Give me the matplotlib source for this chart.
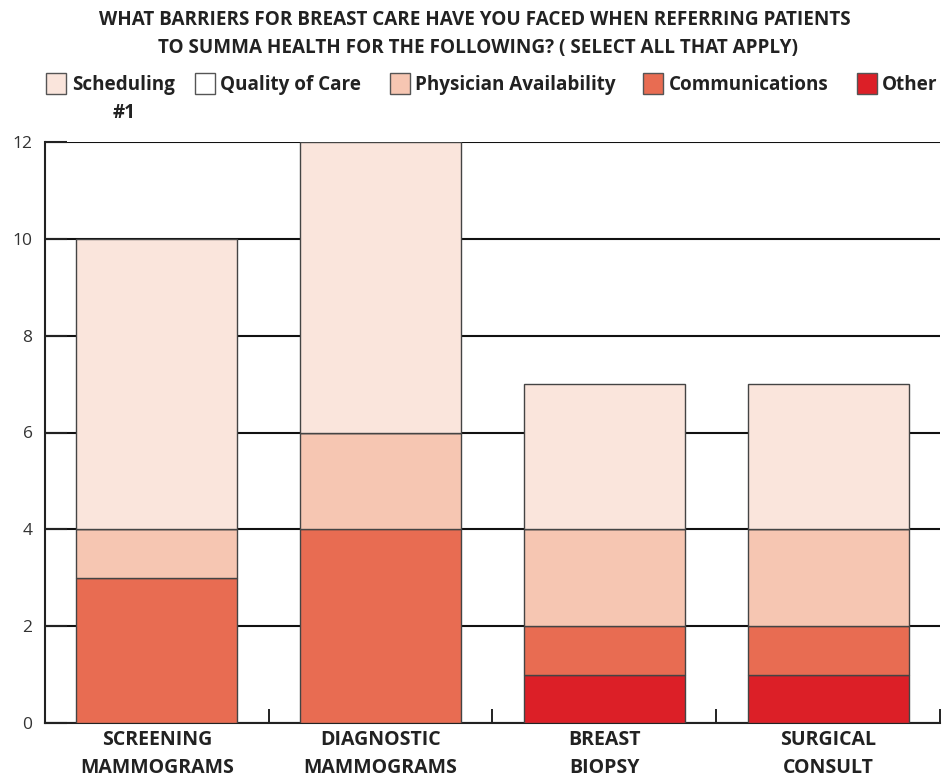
import numpy as np
import matplotlib.pyplot as plt
from matplotlib.patches import Rectangle

plt.rcParams['font.family'] = ['Open Sans', 'DejaVu Sans']

categories = ['SCREENING\nMAMMOGRAMS', 'DIAGNOSTIC\nMAMMOGRAMS', 'BREAST\nBIOPSY', 'SURGICAL\nCONSULT']
# stacked bottom to top
other = [0, 0, 1, 1]
communications = [3, 4, 1, 1]
physician = [1, 2, 2, 2]
quality = [0, 0, 0, 0]
scheduling = [6, 6, 3, 3]

series = [
    ('Other', other, '#dc1f27'),
    ('Communications', communications, '#e86c52'),
    ('Physician Availability', physician, '#f6c6b2'),
    ('Quality of Care', quality, '#ffffff'),
    ('Scheduling\n#1', scheduling, '#fae5dc'),
]
yticks = [0, 2, 4, 6, 8, 10, 12]

W, H = 943.0, 777.0
fig = plt.figure(figsize=(9.43, 7.77), dpi=100)
ax = fig.add_axes([45 / W, 54 / H, 895 / W, 581 / H])

x = np.arange(len(categories))
bottom = np.zeros(len(categories))
for name, vals, col in series:
    vals = np.array(vals, dtype=float)
    ax.bar(x, vals, width=0.72, bottom=bottom, color=col, edgecolor='#444444',
           linewidth=1.0, zorder=3)
    bottom += vals

ax.set_xlim(-0.5, 3.5)
ax.set_ylim(0, 12)
ax.set_yticks(yticks)
ax.set_yticklabels([str(v) for v in yticks], fontsize=12.5, color='#333333')
ax.yaxis.grid(True, color='#111111', linewidth=1.5, zorder=0)
ax.set_axisbelow(True)
ax.tick_params(axis='y', direction='in', length=16, width=1.5, pad=9, color='#222222')

# category labels, two lines each
ax.set_xticks(x)
ax.set_xticklabels([])
ax.tick_params(axis='x', which='major', length=0)
for xi, lab in zip(x, categories):
    l1, l2 = lab.split('\n')
    ax.text(xi, -22 / 581, l1, transform=ax.get_xaxis_transform(), ha='center', va='baseline',
            fontsize=14, fontweight='bold', color='#222222')
    ax.text(xi, -50 / 581, l2, transform=ax.get_xaxis_transform(), ha='center', va='baseline',
            fontsize=14, fontweight='bold', color='#222222')
ax.set_xticks(np.arange(-0.5, 4.0, 1.0), minor=True)
ax.tick_params(axis='x', which='minor', direction='in', length=10, width=1.4, color='#222222')

for s in ['top', 'right']:
    ax.spines[s].set_visible(False)
for s in ['left', 'bottom']:
    ax.spines[s].set_linewidth(1.5)
    ax.spines[s].set_color('#222222')

fig.text(474.5 / W, 1 - 25 / H, 'WHAT BARRIERS FOR BREAST CARE HAVE YOU FACED WHEN REFERRING PATIENTS',
         ha='center', va='baseline', fontsize=13.6, fontweight='bold', color='#222222')
fig.text(477.5 / W, 1 - 53 / H, 'TO SUMMA HEALTH FOR THE FOLLOWING? ( SELECT ALL THAT APPLY)',
         ha='center', va='baseline', fontsize=13.6, fontweight='bold', color='#222222')

# legend drawn by hand to match the layout
legend_items = [
    ('Scheduling', '#fae5dc', 46, 72),
    ('Quality of Care', '#ffffff', 195, 220),
    ('Physician Availability', '#f6c6b2', 390, 415),
    ('Communications', '#e86c52', 643, 669),
    ('Other', '#dc1f27', 857, 882),
]
for label, col, bx, tx in legend_items:
    fig.patches.append(Rectangle((bx / W, 1 - 94 / H), 20 / W, 21 / H, transform=fig.transFigure,
                                 facecolor=col, edgecolor='#555555', linewidth=1.0))
    fig.text(tx / W, 1 - 90 / H, label, ha='left', va='baseline', fontsize=13.6,
             fontweight='bold', color='#222222')
fig.text(124 / W, 1 - 118 / H, '#1', ha='center', va='baseline', fontsize=13.6,
         fontweight='bold', color='#222222')

fig.savefig('out.png', dpi=100)
